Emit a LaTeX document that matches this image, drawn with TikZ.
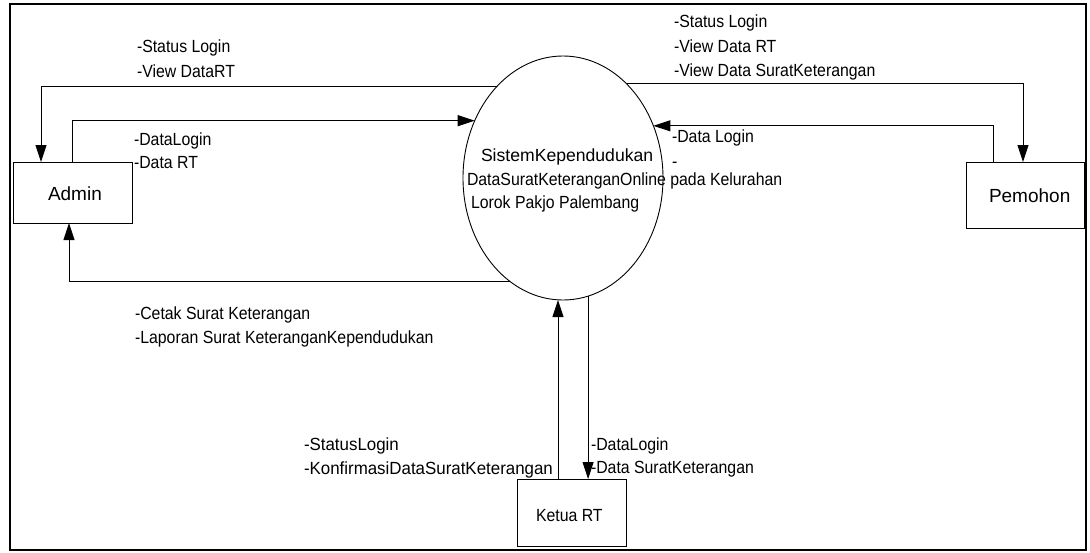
\documentclass[tikz,border=0pt]{standalone}
\usepackage{fontspec}
\setmainfont{Liberation Sans}
\newfontfamily\condensed{Liberation Sans}[FakeStretch=0.9]
\newfontfamily\semicondensed{Liberation Sans}[FakeStretch=0.96]
\usetikzlibrary{shapes.geometric,arrows.meta}
% stacked text lines; the box baseline is the baseline of the first line
\newcommand\rows[2][24.5pt]{\vtop{\baselineskip=#1\lineskiplimit=-100pt\lineskip=0pt\halign{##\hfil\cr#2\crcr}}}
\begin{document}
\begin{tikzpicture}[x=1pt,y=-1pt,
  every node/.style={inner sep=0pt,outer sep=0pt},
  entity/.style={draw,rectangle,line width=0.9pt},
  process/.style={draw,ellipse,line width=0.9pt},
  flow/.style={line width=0.9pt,-{Triangle[length=17pt,width=11pt]}},
  lbl/.style={anchor=base west,font=\condensed\fontsize{17.6}{24.5}\selectfont},
  lblwide/.style={anchor=base west,font=\semicondensed\fontsize{17.6}{24.5}\selectfont},
  ename/.style={anchor=base west,font=\fontsize{19}{24}\selectfont}]

\useasboundingbox[fill=white] (0,0) rectangle (1090,552);
\draw[line width=2.6pt] (10,4) rectangle (1086,550);

% external entities and the process
\node[entity,minimum width=119pt,minimum height=61pt] (admin) at (72.5,192.5) {};
\node[entity,minimum width=118pt,minimum height=66pt] (pemohon) at (1025,195) {};
\node[entity,minimum width=109pt,minimum height=67pt] (ketua) at (571.5,512.5) {};
\node[process,minimum width=200pt,minimum height=244pt] (sys) at (563,178) {};

\node[ename] (admintext) at (48,200) {Admin};
\node[ename] (pemohontext) at (989,202.7) {Pemohon};
\node[lbl] (ketuatext) at (536,521.7) {Ketua RT};
\node[lbl] (systext) at (467,161.7) {\rows[23.3pt]{\hspace{14pt}{\rmfamily\fontsize{17.6}{23.3}\selectfont SistemKependudukan}\cr
  DataSuratKeteranganOnline pada Kelurahan\cr
  \hspace{4pt}Lorok Pakjo Palembang}};

% data flows
\coordinate (kup) at ([xshift=-13.5pt]ketua.north);
\draw[flow] (sys.126.1) -| ([xshift=28pt]admin.north west);
\draw[flow] (admin.north) |- (sys.147.2);
\draw[flow] (sys.56.6) -| ([xshift=57pt]pemohon.north west);
\draw[flow] ([xshift=27pt]pemohon.north west) |- (sys.30.5);
\draw[flow] (sys.243.3) -| ([xshift=56pt]admin.south west);
\draw[flow] (kup) -- (kup |- sys.south);
\draw[flow] (sys.282) -- (sys.282 |- ketua.north);

% flow labels
\node[lbl] (l1) at (137,52.5) {\rows{-Status Login\cr -View DataRT}};
\node[lbl] (l2) at (134,145) {\rows[23pt]{-DataLogin\cr -Data RT}};
\node[lbl] (l3) at (674,27.5) {\rows{-Status Login\cr -View Data RT\cr -View Data SuratKeterangan}};
\node[lbl] (l4) at (672,142.7) {\rows{-Data Login\cr -}};
\node[lbl] (l5) at (135,319.3) {\rows[24pt]{-Cetak Surat Keterangan\cr -Laporan Surat KeteranganKependudukan}};
\node[lblwide] (l6) at (304,450) {\rows[24.5pt]{-StatusLogin\cr -KonfirmasiDataSuratKeterangan}};
\node[lbl] (l7) at (591,450) {\rows[23.5pt]{-DataLogin\cr -Data SuratKeterangan}};
\end{tikzpicture}
\end{document}
